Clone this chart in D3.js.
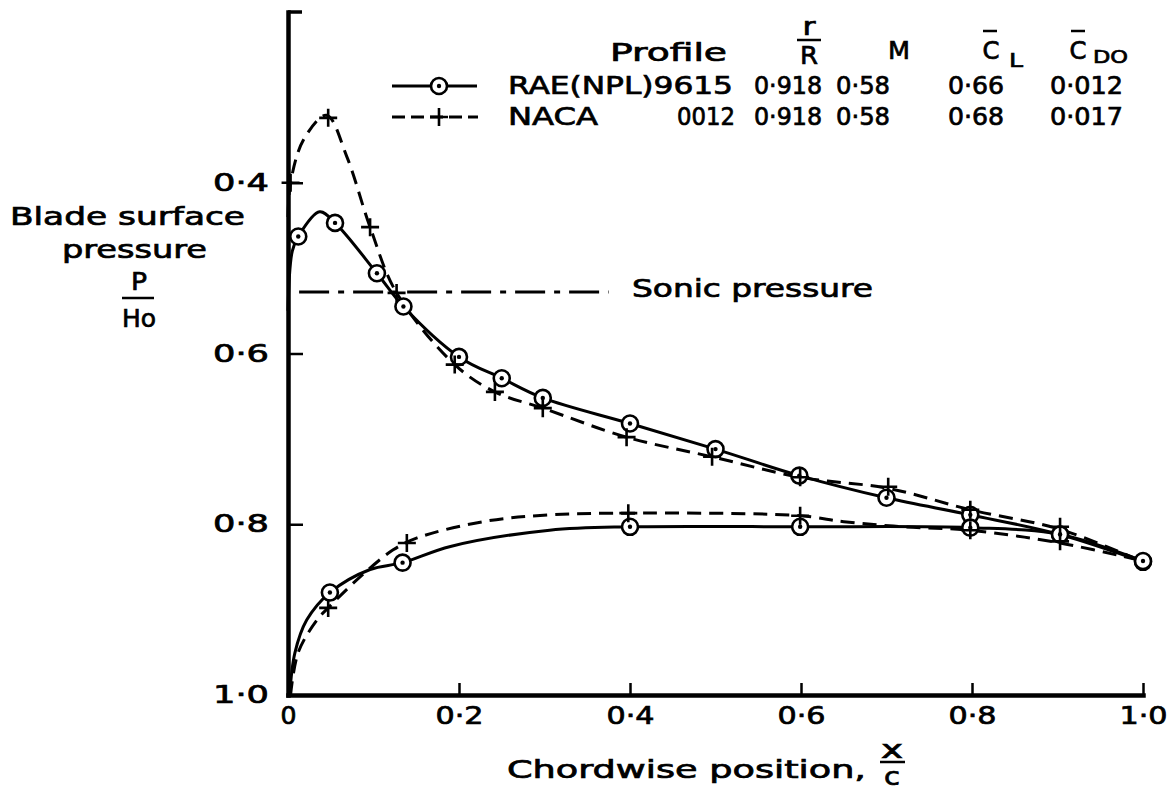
<!DOCTYPE html>
<html><head><meta charset="utf-8">
<script src="https://cdn.jsdelivr.net/npm/d3@7"></script>
<style>
body{margin:0;background:#fff}
text{font-family:"DejaVu Sans",sans-serif;fill:#000;stroke:#000;stroke-width:0.7px}
</style>
</head><body>
<svg id="chart" width="1175" height="799"></svg>
<script>
// ---------- data ----------
// RAE(NPL) 9615 upper surface: curve and circle markers
const raeUpLineX = [0.000, 0.005, 0.012, 0.037, 0.055, 0.104, 0.135, 0.200, 0.250, 0.298, 0.400, 0.500, 0.598, 0.700, 0.798, 0.903, 1.000];
const raeUpLineY = [0.550, 0.480, 0.463, 0.434, 0.447, 0.506, 0.545, 0.604, 0.629, 0.652, 0.682, 0.712, 0.743, 0.769, 0.789, 0.812, 0.844];
const raeUpX = [0.012, 0.055, 0.104, 0.135, 0.200, 0.250, 0.298, 0.400, 0.500, 0.598, 0.700, 0.798, 0.903, 1.000];
const raeUpY = [0.463, 0.447, 0.506, 0.545, 0.604, 0.629, 0.652, 0.682, 0.712, 0.743, 0.769, 0.789, 0.812, 0.844];
// RAE(NPL) 9615 lower surface
const raeLoLineX = [0.002, 0.008, 0.022, 0.049, 0.096, 0.134, 0.190, 0.306, 0.400, 0.599, 0.798, 0.903, 1.000];
const raeLoLineY = [1.000, 0.951, 0.912, 0.880, 0.853, 0.845, 0.826, 0.807, 0.803, 0.803, 0.804, 0.812, 0.843];
const raeLoX = [0.049, 0.134, 0.400, 0.599, 0.798, 0.903, 1.000];
const raeLoY = [0.880, 0.845, 0.803, 0.803, 0.804, 0.812, 0.843];
// NACA 0012 upper surface: curve and plus markers
const nacaUpLineX = [0.000, 0.003, 0.018, 0.045, 0.069, 0.096, 0.127, 0.195, 0.242, 0.298, 0.396, 0.496, 0.599, 0.702, 0.798, 0.903, 1.000];
const nacaUpLineY = [0.440, 0.400, 0.350, 0.321, 0.370, 0.452, 0.529, 0.613, 0.645, 0.664, 0.698, 0.721, 0.745, 0.758, 0.783, 0.806, 0.844];
const nacaUpX = [0.003, 0.047, 0.096, 0.127, 0.195, 0.242, 0.298, 0.396, 0.496, 0.599, 0.702, 0.798, 0.903];
const nacaUpY = [0.400, 0.324, 0.452, 0.529, 0.613, 0.645, 0.664, 0.698, 0.721, 0.745, 0.756, 0.783, 0.803];
// NACA 0012 lower surface
const nacaLoLineX = [0.003, 0.012, 0.034, 0.047, 0.084, 0.123, 0.151, 0.228, 0.306, 0.398, 0.599, 0.650, 0.720, 0.798, 0.903, 1.000];
const nacaLoLineY = [1.000, 0.950, 0.912, 0.898, 0.862, 0.830, 0.816, 0.797, 0.789, 0.787, 0.790, 0.797, 0.803, 0.807, 0.822, 0.843];
const nacaLoX = [0.047, 0.139, 0.398, 0.599, 0.798, 0.903];
const nacaLoY = [0.898, 0.822, 0.787, 0.790, 0.807, 0.820];
// sonic pressure line
const sonicY = 0.528;
const sonicX = [0.013, 0.375];
// axes
const xTickValues = [0, 0.2, 0.4, 0.6, 0.8, 1.0];
const xTickLabels = ["0", "0·2", "0·4", "0·6", "0·8", "1·0"];
const yTickValues = [0.4, 0.6, 0.8, 1.0];
const yTickLabels = ["0·4", "0·6", "0·8", "1·0"];
// legend table
const legProfiles = ["RAE(NPL)9615", "NACA"];
const legProfileNums = ["", "0012"];
const legRR = ["0·918", "0·918"];
const legM = ["0·58", "0·58"];
const legCL = ["0·66", "0·68"];
const legCDO = ["0·012", "0·017"];

// ---------- drawing ----------
const svg = d3.select("#chart");
const X = d3.scaleLinear().domain([0, 1]).range([288, 1143]);
const Y = d3.scaleLinear().domain([0.2, 1.0]).range([12, 695]);

function T(x, y, s, opts = {}) {
  const t = svg.append("text").attr("x", x).attr("y", y).text(s)
    .attr("font-size", opts.size || 24)
    .attr("text-anchor", opts.anchor || "start")
    .attr("dominant-baseline", "central");
  if (opts.len) t.attr("textLength", opts.len).attr("lengthAdjust", "spacingAndGlyphs");
  return t;
}

// axes
const gy = svg.append("g").attr("transform", `translate(${X(0)},0)`)
  .call(d3.axisLeft(Y).tickValues(yTickValues).tickFormat((d, i) => yTickLabels[i])
    .tickSizeInner(-15).tickSizeOuter(0).tickPadding(19));
const gx = svg.append("g").attr("transform", `translate(0,${Y(1.0)})`)
  .call(d3.axisBottom(X).tickValues(xTickValues).tickFormat((d, i) => xTickLabels[i])
    .tickSizeInner(-12).tickSizeOuter(0).tickPadding(12));
[gy, gx].forEach(g => {
  g.attr("font-family", null).attr("font-size", null);
  g.select(".domain").attr("stroke", "#000").attr("stroke-width", 4.5).attr("stroke-linecap", "square");
  g.selectAll(".tick line").attr("stroke", "#000").attr("stroke-width", 2.5);
  g.selectAll(".tick text").attr("font-size", 24).attr("fill", "#000");
});
gy.selectAll(".tick text").attr("textLength", 56).attr("lengthAdjust", "spacingAndGlyphs");
gx.selectAll(".tick text").attr("textLength", (d, i) => i === 0 ? 16 : 48).attr("lengthAdjust", "spacingAndGlyphs");
// top hook of y axis
svg.append("line").attr("x1", X(0)).attr("x2", X(0) + 14).attr("y1", Y(0.2)).attr("y2", Y(0.2))
  .attr("stroke", "#000").attr("stroke-width", 3.5);

// sonic pressure line
svg.append("line").attr("x1", X(sonicX[0])).attr("x2", X(sonicX[1]))
  .attr("y1", Y(sonicY)).attr("y2", Y(sonicY))
  .attr("stroke", "#000").attr("stroke-width", 3).attr("stroke-dasharray", "30,9,6,9");
T(632, Y(sonicY) - 3, "Sonic pressure", {len: 241});

// curves
const line = d3.line().x(d => X(d[0])).y(d => Y(d[1])).curve(d3.curveCatmullRom.alpha(0.5));
const zip = (a, b) => a.map((v, i) => [v, b[i]]);
function curve(xs, ys, dashed) {
  svg.append("path").attr("d", line(zip(xs, ys))).attr("fill", "none")
    .attr("stroke", "#000").attr("stroke-width", 3)
    .attr("stroke-dasharray", dashed ? "14,8" : null);
}
curve(nacaUpLineX, nacaUpLineY, true);
curve(nacaLoLineX, nacaLoLineY, true);
curve(raeUpLineX, raeUpLineY, false);
curve(raeLoLineX, raeLoLineY, false);

function circleMark(cx, cy) {
  svg.append("circle").attr("cx", cx).attr("cy", cy).attr("r", 8)
    .attr("fill", "#fff").attr("stroke", "#000").attr("stroke-width", 2.6);
  svg.append("circle").attr("cx", cx).attr("cy", cy).attr("r", 2.2).attr("fill", "#000");
}
function plusMark(cx, cy) {
  svg.append("path").attr("d", `M${cx - 9},${cy}H${cx + 9}M${cx},${cy - 9}V${cy + 9}`)
    .attr("stroke", "#000").attr("stroke-width", 2.6).attr("fill", "none");
}
zip(raeUpX, raeUpY).concat(zip(raeLoX, raeLoY)).forEach(d => circleMark(X(d[0]), Y(d[1])));
zip(nacaUpX, nacaUpY).concat(zip(nacaLoX, nacaLoY)).forEach(d => plusMark(X(d[0]), Y(d[1])));

// legend
const rowY = [86, 117];
svg.append("line").attr("x1", 392).attr("x2", 477).attr("y1", rowY[0]).attr("y2", rowY[0])
  .attr("stroke", "#000").attr("stroke-width", 3);
circleMark(439, rowY[0]);
svg.append("line").attr("x1", 392).attr("x2", 478).attr("y1", rowY[1]).attr("y2", rowY[1])
  .attr("stroke", "#000").attr("stroke-width", 3).attr("stroke-dasharray", "13,6");
plusMark(439, rowY[1]);

T(610, 53, "Profile", {len: 117});
// r/R header
T(809, 27, "r", {anchor: "middle", len: 13});
svg.append("line").attr("x1", 797).attr("x2", 821).attr("y1", 40).attr("y2", 40).attr("stroke", "#000").attr("stroke-width", 2.5);
T(809, 56, "R", {anchor: "middle", len: 18});
T(899, 51, "M", {anchor: "middle", len: 22});
// C-bar L
T(991, 51, "C", {anchor: "middle", len: 17});
svg.append("line").attr("x1", 983).attr("x2", 997).attr("y1", 31).attr("y2", 31).attr("stroke", "#000").attr("stroke-width", 2.5);
T(1016, 60, "L", {anchor: "middle", size: 20, len: 14});
// C-bar DO
T(1078, 51, "C", {anchor: "middle", len: 17});
svg.append("line").attr("x1", 1071).attr("x2", 1085).attr("y1", 31).attr("y2", 31).attr("stroke", "#000").attr("stroke-width", 2.5);
T(1093, 56, "DO", {size: 18, len: 35});

legProfiles.forEach((p, i) => {
  T(508, rowY[i], p, {len: i === 0 ? 225 : 90});
  if (legProfileNums[i]) T(735, rowY[i], legProfileNums[i], {anchor: "end", len: 58});
  T(754, rowY[i], legRR[i], {len: 68});
  T(836, rowY[i], legM[i], {len: 54});
  T(948, rowY[i], legCL[i], {len: 56});
  T(1050, rowY[i], legCDO[i], {len: 73});
});

// y-axis title
T(10, 217, "Blade surface", {len: 235});
T(62, 250, "pressure", {len: 145});
T(139, 282, "P", {anchor: "middle", len: 16});
svg.append("line").attr("x1", 122).attr("x2", 154).attr("y1", 298).attr("y2", 298).attr("stroke", "#000").attr("stroke-width", 2.5);
T(139, 319, "Ho", {anchor: "middle", len: 34});

// x-axis title
T(507, 770, "Chordwise position,", {len: 359});
T(892, 750, "x", {anchor: "middle", len: 22});
svg.append("line").attr("x1", 880).attr("x2", 905).attr("y1", 762).attr("y2", 762).attr("stroke", "#000").attr("stroke-width", 2.5);
T(892, 777, "c", {anchor: "middle", len: 16});
</script>
</body></html>
